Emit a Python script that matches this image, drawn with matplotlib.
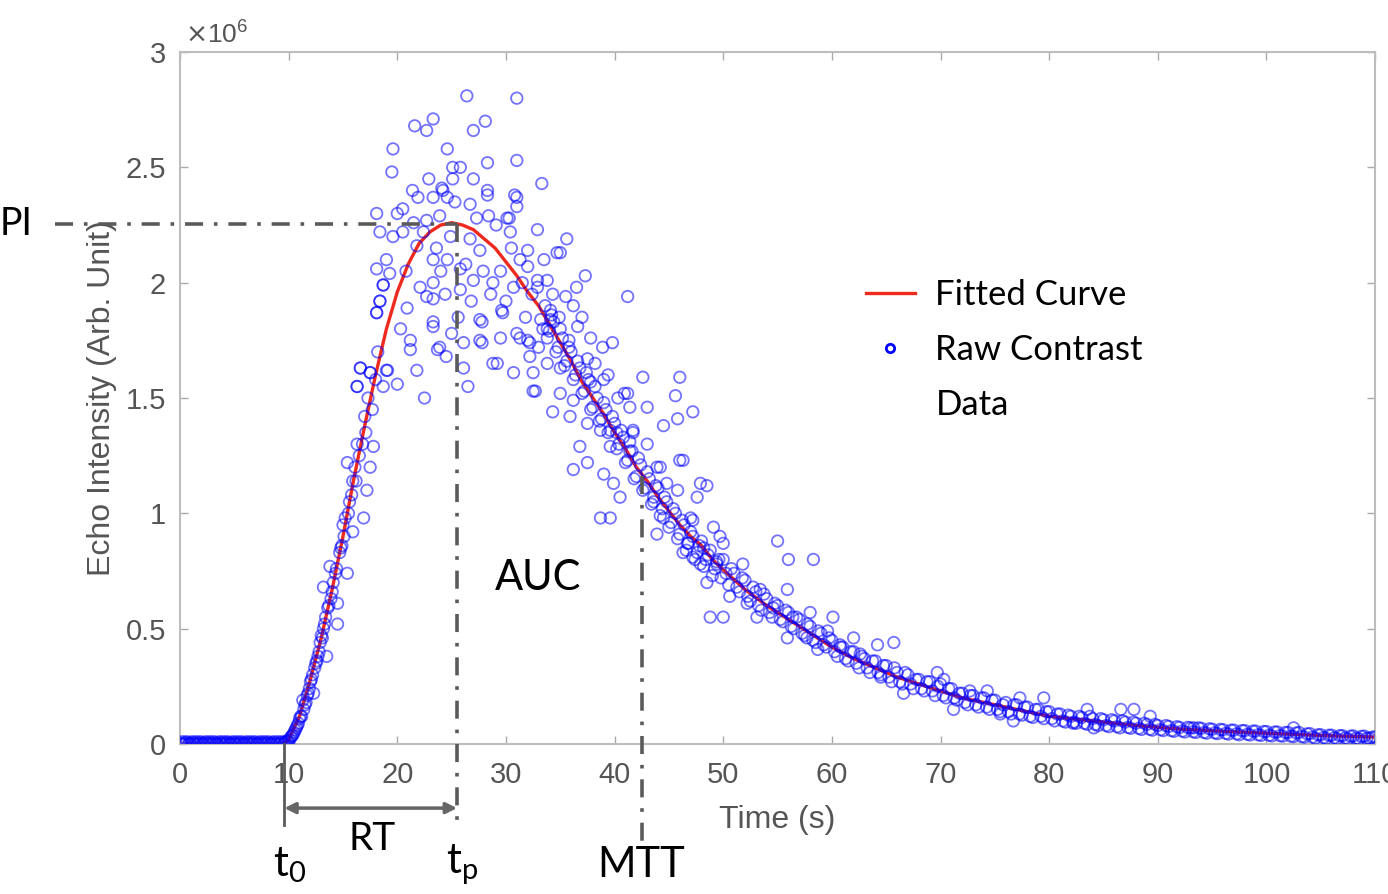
import matplotlib
matplotlib.use('Agg')
import matplotlib.pyplot as plt
from matplotlib.lines import Line2D
from matplotlib.ticker import FuncFormatter

# all intensities in units of 1e6
# baseline before contrast arrival
base_t = [0, 0.125, 0.25, 0.375, 0.5, 0.625, 0.75, 0.875, 1, 1.125,
          1.25, 1.375, 1.5, 1.625, 1.75, 1.875, 2, 2.125, 2.25, 2.375,
          2.5, 2.625, 2.75, 2.875, 3, 3.125, 3.25, 3.375, 3.5, 3.625,
          3.75, 3.875, 4, 4.125, 4.25, 4.375, 4.5, 4.625, 4.75, 4.875,
          5, 5.125, 5.25, 5.375, 5.5, 5.625, 5.75, 5.875, 6, 6.125,
          6.25, 6.375, 6.5, 6.625, 6.75, 6.875, 7, 7.125, 7.25, 7.375,
          7.5, 7.625, 7.75, 7.875, 8, 8.125, 8.25, 8.375, 8.5, 8.625,
          8.75, 8.875, 9, 9.125, 9.25, 9.375, 9.5, 9.625, 9.75, 9.875]
base_y = [0.005, 0.0, 0.01, 0.0, 0.005, 0.01, 0.0, 0.005, 0.0, 0.01,
          0.005, 0.0, 0.01, 0.0, 0.005, 0.01, 0.0, 0.005, 0.0, 0.01,
          0.005, 0.0, 0.01, 0.0, 0.005, 0.01, 0.0, 0.005, 0.0, 0.01,
          0.005, 0.0, 0.01, 0.0, 0.005, 0.01, 0.0, 0.005, 0.0, 0.01,
          0.005, 0.0, 0.01, 0.0, 0.005, 0.01, 0.0, 0.005, 0.0, 0.01,
          0.005, 0.0, 0.01, 0.0, 0.005, 0.01, 0.0, 0.005, 0.0, 0.01,
          0.005, 0.0, 0.01, 0.0, 0.005, 0.01, 0.0, 0.005, 0.0, 0.01,
          0.005, 0.0, 0.01, 0.0, 0.005, 0.01, 0.0, 0.005, 0.01, 0.015]

# wash-in
rise_pts = [(10.0, 0.01), (10.2, 0.03), (10.4, 0.04), (10.6, 0.06), (10.8, 0.08), (11.0, 0.11),
            (11.2, 0.12), (11.3, 0.19), (11.4, 0.15), (11.6, 0.18), (11.8, 0.22), (12.0, 0.27),
            (12.2, 0.30), (12.3, 0.22), (12.4, 0.33), (12.6, 0.36), (12.8, 0.40), (12.9, 0.44),
            (13.0, 0.47), (13.2, 0.50), (13.2, 0.68), (13.4, 0.55), (13.5, 0.38), (13.6, 0.59),
            (13.8, 0.77), (13.9, 0.63), (14.1, 0.70), (14.3, 0.74), (14.5, 0.61), (14.5, 0.52),
            (14.7, 0.83), (14.9, 0.86), (15.0, 0.95), (15.2, 0.98), (15.4, 0.74), (15.4, 1.22),
            (15.6, 1.05), (15.9, 0.92), (15.9, 1.14), (16.1, 1.20), (16.3, 1.55), (16.3, 1.30),
            (16.6, 1.63), (16.8, 1.30), (16.9, 0.98), (17.0, 1.42), (17.2, 1.10), (17.3, 1.50),
            (17.5, 1.20), (17.5, 1.61), (17.8, 1.29), (18.0, 1.58), (18.1, 1.87), (18.2, 1.70),
            (18.4, 1.92), (18.7, 1.55), (18.7, 1.99), (19.0, 1.62),
            (10.1, 0.02), (10.3, 0.035), (10.5, 0.05), (10.7, 0.07), (10.9, 0.09), (11.1, 0.12),
            (11.5, 0.17), (11.7, 0.21), (11.9, 0.24), (12.1, 0.28), (12.5, 0.35), (12.7, 0.38),
            (13.1, 0.46), (13.3, 0.52), (13.7, 0.60), (14.0, 0.66), (14.4, 0.76), (14.8, 0.85),
            (15.1, 0.90), (15.5, 1.00), (15.8, 1.08), (16.2, 1.14), (16.5, 1.25), (17.1, 1.35),
            (17.7, 1.45)]

# around the peak
peak_pts = [(26.4, 2.81), (31.0, 2.80), (21.6, 2.68), (23.3, 2.71), (22.7, 2.66), (27.0, 2.66),
            (28.1, 2.70), (19.6, 2.58), (24.6, 2.58), (28.3, 2.52), (31.0, 2.53), (19.5, 2.48),
            (25.1, 2.50), (25.8, 2.50), (27.0, 2.45), (33.3, 2.43), (24.1, 2.41), (24.6, 2.37),
            (21.9, 2.37), (23.3, 2.37), (28.3, 2.38), (31.0, 2.37), (26.7, 2.34), (20.5, 2.32),
            (18.1, 2.30), (30.1, 2.28), (28.4, 2.29), (21.5, 2.26), (22.7, 2.27), (23.9, 2.29),
            (18.4, 2.22), (19.6, 2.20), (20.5, 2.22), (26.7, 2.19), (30.4, 2.22), (32.9, 2.23),
            (21.8, 2.16), (27.6, 2.14), (32.0, 2.14), (34.7, 2.13), (18.1, 2.06), (19.3, 2.04),
            (23.3, 2.10), (24.6, 2.10), (25.8, 2.06), (27.0, 2.01), (28.8, 2.00), (30.7, 1.98),
            (32.9, 2.01), (18.7, 1.99), (22.1, 1.98), (23.3, 2.00), (25.8, 1.97), (22.7, 1.94),
            (18.4, 1.92), (18.1, 1.87), (20.9, 1.89), (23.3, 1.93), (27.6, 1.84), (29.7, 1.87),
            (31.0, 1.78), (29.5, 1.76), (23.3, 1.81), (21.2, 1.75), (23.9, 1.72), (26.1, 1.74),
            (16.6, 1.63), (17.5, 1.61), (19.1, 1.62), (20.0, 1.56), (26.1, 1.63), (28.8, 1.65),
            (30.7, 1.61), (32.5, 1.53), (16.3, 1.55), (25.1, 2.45), (24.2, 2.40), (28.3, 2.40),
            (30.8, 2.38), (31.0, 2.33), (30.3, 2.28), (35.6, 2.19), (35.0, 2.13), (31.3, 2.10),
            (32.0, 2.07), (33.8, 2.01), (32.9, 1.98), (37.3, 2.03), (41.2, 1.94), (35.5, 1.94),
            (36.2, 1.90), (34.1, 1.88), (34.1, 1.84), (36.6, 1.81), (29.6, 1.88), (27.8, 1.83),
            (31.3, 1.76), (32.2, 1.74), (37.8, 1.76), (39.8, 1.74), (27.8, 1.74), (32.2, 1.68),
            (33.8, 1.65), (35.0, 1.63), (37.5, 1.67), (23.3, 1.83), (21.2, 1.71), (23.7, 1.71),
            (27.6, 1.75), (32.0, 1.75), (33.8, 1.80), (29.2, 1.65), (32.5, 1.61),
            (19.0, 2.10), (20.0, 2.30), (20.8, 2.05), (21.4, 2.40), (22.4, 2.22), (22.9, 2.45),
            (23.6, 2.15), (24.0, 2.05), (24.4, 1.95), (24.9, 2.20), (25.3, 2.35), (25.6, 1.85),
            (26.3, 2.08), (26.8, 1.92), (27.3, 2.28), (27.9, 2.05), (28.6, 1.95), (29.1, 2.25),
            (29.5, 2.05), (30.0, 1.92), (30.5, 2.15), (31.5, 2.00), (31.8, 1.85), (32.4, 1.95),
            (33.0, 1.72), (33.5, 2.10), (34.3, 1.95), (34.9, 1.85), (35.8, 1.75), (36.5, 1.98),
            (37.0, 1.85), (38.2, 1.65), (38.9, 1.72), (39.4, 1.60), (40.3, 1.50), (20.3, 1.80),
            (21.8, 1.62), (22.5, 1.50), (24.5, 1.68), (25.0, 1.78), (26.5, 1.55)]

# wash-out, scattered part
fall_pts = [(42.6, 1.59), (46.0, 1.59), (32.7, 1.53), (35.0, 1.52), (36.2, 1.49), (37.8, 1.57),
            (39.0, 1.58), (41.2, 1.52), (45.6, 1.51), (43.0, 1.46), (47.2, 1.44), (34.3, 1.44),
            (35.9, 1.42), (37.5, 1.39), (38.7, 1.36), (40.2, 1.35), (41.7, 1.35), (44.5, 1.38),
            (36.8, 1.29), (39.6, 1.29), (41.4, 1.27), (43.0, 1.30), (36.2, 1.19), (37.5, 1.22),
            (39.0, 1.17), (39.9, 1.13), (40.5, 1.07), (38.7, 0.98), (39.6, 0.98), (44.2, 1.20),
            (44.8, 1.13), (46.0, 1.23), (45.8, 1.10), (47.9, 1.13), (43.6, 1.05), (44.5, 0.98),
            (47.0, 0.98), (43.9, 0.91), (49.1, 0.94), (49.7, 0.90), (46.7, 0.87), (48.2, 0.85),
            (45.8, 1.41), (41.4, 1.46), (40.9, 1.52), (41.7, 1.36), (46.3, 1.23), (48.5, 1.12),
            (47.6, 1.07), (43.9, 1.20), (47.2, 0.97), (50.0, 0.87), (46.3, 0.83), (47.9, 0.78),
            (47.2, 0.81), (49.4, 0.78), (51.8, 0.78), (55.0, 0.88), (56.0, 0.80), (58.3, 0.80),
            (48.5, 0.70), (50.6, 0.64), (52.2, 0.61), (48.8, 0.55), (50.0, 0.55), (53.4, 0.67),
            (55.9, 0.67), (54.6, 0.59), (53.1, 0.55), (56.4, 0.55), (58.0, 0.57), (60.1, 0.55),
            (55.9, 0.46), (57.7, 0.46), (59.6, 0.49), (62.0, 0.46), (60.8, 0.42), (64.2, 0.43),
            (65.7, 0.44), (58.7, 0.41), (62.6, 0.39), (64.5, 0.29), (66.6, 0.22), (69.7, 0.31),
            (70.3, 0.28), (72.7, 0.23), (74.3, 0.23), (71.2, 0.15), (75.5, 0.13), (77.3, 0.20),
            (79.5, 0.20), (76.7, 0.10), (82.2, 0.09), (83.5, 0.15), (86.6, 0.15), (87.8, 0.15),
            (89.3, 0.12), (84.1, 0.07), (93.3, 0.07), (102.5, 0.07)]

# wash-out, points hugging the curve
stream_pts = [(33.2, 1.84), (33.6, 1.90), (34.0, 1.79), (34.4, 1.83), (34.8, 1.72), (35.2, 1.76),
              (35.6, 1.66), (36.0, 1.70), (36.4, 1.60), (36.8, 1.63), (37.2, 1.53), (37.6, 1.58),
              (38.0, 1.46), (38.4, 1.50), (38.8, 1.41), (39.2, 1.45), (39.6, 1.36), (40.0, 1.39),
              (40.4, 1.30), (40.8, 1.33), (41.2, 1.23), (41.6, 1.27), (42.0, 1.16), (42.4, 1.21),
              (42.8, 1.11), (43.2, 1.15), (43.6, 1.07), (44.0, 1.11), (44.4, 1.02), (44.8, 1.05),
              (45.2, 0.96), (45.6, 1.00), (46.0, 0.91), (46.4, 0.95), (46.8, 0.87), (47.2, 0.90),
              (47.6, 0.83), (48.0, 0.88), (48.4, 0.80), (48.8, 0.84), (49.2, 0.76), (49.6, 0.80),
              (33.4, 1.80), (33.8, 1.76), (34.2, 1.86), (34.6, 1.70), (35.0, 1.80), (35.4, 1.64),
              (35.8, 1.72), (36.2, 1.58), (36.6, 1.66), (37.0, 1.52), (37.4, 1.61), (37.8, 1.45),
              (38.2, 1.55), (38.6, 1.40), (39.0, 1.48), (39.4, 1.35), (39.8, 1.42), (40.2, 1.28),
              (40.6, 1.36), (41.0, 1.22), (41.4, 1.31), (41.8, 1.15), (42.2, 1.24), (42.6, 1.10),
              (43.0, 1.18), (43.4, 1.04), (43.8, 1.12), (44.2, 0.99), (44.6, 1.07), (45.0, 0.94),
              (45.4, 1.02), (45.8, 0.89), (46.2, 0.97), (46.6, 0.84), (47.0, 0.92), (47.4, 0.80),
              (47.8, 0.86), (48.2, 0.77), (48.6, 0.82), (49.0, 0.73), (49.4, 0.79), (49.8, 0.72)]

tail_t = [50.0, 50.5, 51.0, 51.5, 52.0, 52.5, 53.0, 53.5, 54.0, 54.5, 55.0, 55.5, 56.0, 56.5,
          57.0, 57.5, 58.0, 58.5, 59.0, 59.5, 60.0, 60.5, 61.0, 61.5, 62.0, 62.5, 63.0, 63.5,
          64.0, 64.5, 65.0, 65.5, 66.0, 66.5, 67.0, 67.5, 68.0, 68.5, 69.0, 69.5, 70.0, 70.5,
          71.0, 71.5, 72.0, 72.5, 73.0, 73.5, 74.0, 74.5, 75.0, 75.5, 76.0, 76.5, 77.0, 77.5,
          78.0, 78.5, 79.0, 79.5, 80.0, 80.5, 81.0, 81.5, 82.0, 82.5, 83.0, 83.5, 84.0, 84.5,
          85.0, 85.5, 86.0, 86.5, 87.0, 87.5, 88.0, 88.5, 89.0, 89.5, 90.0, 90.5, 91.0, 91.5,
          92.0, 92.5, 93.0, 93.5, 94.0, 94.5, 95.0, 95.5, 96.0, 96.5, 97.0, 97.5, 98.0, 98.5,
          99.0, 99.5, 100.0, 100.5, 101.0, 101.5, 102.0, 102.5, 103.0, 103.5, 104.0, 104.5,
          105.0, 105.5, 106.0, 106.5, 107.0, 107.5, 108.0, 108.5, 109.0, 109.5, 110.0]
tail_y = [0.80, 0.69, 0.74, 0.66, 0.71, 0.62, 0.66, 0.58, 0.63, 0.55, 0.60, 0.53, 0.57, 0.50,
          0.54, 0.47, 0.51, 0.44, 0.48, 0.42, 0.45, 0.38, 0.42, 0.36, 0.40, 0.33, 0.37, 0.31,
          0.36, 0.30, 0.34, 0.27, 0.31, 0.26, 0.30, 0.24, 0.28, 0.23, 0.27, 0.21, 0.26, 0.20,
          0.24, 0.19, 0.22, 0.17, 0.21, 0.16, 0.20, 0.15, 0.19, 0.14, 0.18, 0.13, 0.17, 0.125,
          0.16, 0.115, 0.15, 0.11, 0.14, 0.10, 0.13, 0.095, 0.12, 0.09, 0.115, 0.085, 0.11, 0.08,
          0.105, 0.075, 0.10, 0.07, 0.095, 0.068, 0.09, 0.063, 0.085, 0.06, 0.08, 0.058, 0.076,
          0.055, 0.072, 0.052, 0.07, 0.05, 0.068, 0.047, 0.064, 0.045, 0.062, 0.043, 0.06, 0.04,
          0.058, 0.039, 0.056, 0.037, 0.054, 0.035, 0.052, 0.034, 0.05, 0.032, 0.05, 0.03, 0.045,
          0.025, 0.04, 0.024, 0.038, 0.023, 0.036, 0.022, 0.035, 0.022, 0.034, 0.025, 0.03]

# second pass through the tail band (frames between the ones above)
tail2_pts = [(50.25, 0.74), (50.75, 0.76), (51.25, 0.68), (51.75, 0.72), (52.25, 0.64),
             (52.75, 0.68), (53.25, 0.60), (53.75, 0.65), (54.25, 0.57), (54.75, 0.61),
             (55.25, 0.54), (55.75, 0.58), (56.25, 0.51), (56.75, 0.55), (57.25, 0.48),
             (57.75, 0.52), (58.25, 0.45), (58.75, 0.49), (59.25, 0.43), (59.75, 0.46),
             (60.25, 0.40), (60.75, 0.43), (61.25, 0.37), (61.75, 0.40), (62.25, 0.35),
             (62.75, 0.38), (63.25, 0.33), (63.75, 0.36), (64.25, 0.31), (64.75, 0.34),
             (65.25, 0.29), (65.75, 0.33), (66.25, 0.27), (66.75, 0.31), (67.25, 0.26),
             (67.75, 0.28), (68.25, 0.24), (68.75, 0.27), (69.25, 0.23), (69.75, 0.25),
             (70.25, 0.21), (70.75, 0.24), (71.25, 0.20), (71.75, 0.22), (72.25, 0.18),
             (72.75, 0.21), (73.25, 0.17), (73.75, 0.20), (74.25, 0.16), (74.75, 0.19),
             (75.25, 0.15), (75.75, 0.17), (76.25, 0.14), (76.75, 0.17), (77.25, 0.13),
             (77.75, 0.16), (78.25, 0.12), (78.75, 0.15), (79.25, 0.12), (79.75, 0.14),
             (80.25, 0.11), (80.75, 0.13), (81.25, 0.10), (81.75, 0.125), (82.25, 0.095),
             (82.75, 0.12), (83.25, 0.09), (83.75, 0.12), (84.25, 0.085), (84.75, 0.11),
             (85.25, 0.08), (85.75, 0.105), (86.25, 0.075), (86.75, 0.10), (87.25, 0.072),
             (87.75, 0.095), (88.25, 0.068), (88.75, 0.09), (89.25, 0.064), (89.75, 0.085),
             (90.25, 0.062), (90.75, 0.08), (91.25, 0.058), (91.75, 0.075), (92.25, 0.056),
             (92.75, 0.072), (93.25, 0.053), (93.75, 0.07), (94.25, 0.05), (94.75, 0.066),
             (95.25, 0.048), (95.75, 0.063), (96.25, 0.046), (96.75, 0.06), (97.25, 0.044),
             (97.75, 0.058), (98.25, 0.042), (98.75, 0.056), (99.25, 0.04), (99.75, 0.054),
             (100.25, 0.038), (100.75, 0.052), (101.25, 0.036), (101.75, 0.05), (102.25, 0.034),
             (102.75, 0.048), (103.25, 0.032), (103.75, 0.044), (104.25, 0.03), (104.75, 0.04),
             (105.25, 0.028), (105.75, 0.038), (106.25, 0.027), (106.75, 0.036), (107.25, 0.026),
             (107.75, 0.034), (108.25, 0.025), (108.75, 0.033), (109.25, 0.025), (109.75, 0.03)]

# fitted gamma-variate curve
fit_t = [0, 9.5, 10, 11, 12, 13, 14, 15, 16, 17, 18, 19, 20, 21, 22, 23, 24, 25, 26, 27, 28,
         29, 30, 31, 32, 33, 34, 35, 36, 37, 38, 39, 40, 41, 42, 43, 44, 45, 46, 47, 48, 49,
         50, 52, 54, 56, 58, 60, 62, 64, 66, 68, 70, 72, 74, 76, 78, 80, 84, 88, 92, 96, 100,
         105, 110]
fit_y = [0, 0, 0.02, 0.12, 0.28, 0.46, 0.67, 0.9, 1.15, 1.38, 1.6, 1.8, 1.96, 2.08, 2.17,
         2.22, 2.25, 2.26, 2.25, 2.23, 2.19, 2.15, 2.09, 2.03, 1.96, 1.9, 1.82, 1.74, 1.66, 1.57,
         1.5, 1.43, 1.35, 1.28, 1.2, 1.14, 1.07, 1.01, 0.95, 0.9, 0.86, 0.8, 0.755, 0.67, 0.6,
         0.54, 0.48, 0.42, 0.37, 0.33, 0.29, 0.26, 0.23, 0.2, 0.18, 0.16, 0.14, 0.12, 0.1, 0.08,
         0.065, 0.055, 0.047, 0.037, 0.03]

# perfusion parameters
t0 = 9.6
tp = 25.5
PI = 2.255
mtt = 42.5
mtt_level = 1.16

x_ticks = [0, 10, 20, 30, 40, 50, 60, 70, 80, 90, 100, 110]
y_ticks = [0, 0.5, 1, 1.5, 2, 2.5, 3]

plt.rcParams['font.family'] = ['Liberation Sans', 'DejaVu Sans']
ann_font = ['Lato', 'DejaVu Sans']
gray = '#555555'
line_gray = '#5a5a5a'

fig = plt.figure(figsize=(13.88, 8.94), dpi=100)
ax = fig.add_axes([0.1297, 0.1678, 0.8610, 0.7740])

ax.plot(fit_t, fit_y, color='#ee2a1f', lw=2.4, zorder=2)

scat = rise_pts + peak_pts + fall_pts + stream_pts + tail2_pts
pts_t = base_t + [p[0] for p in scat] + tail_t
pts_y = base_y + [p[1] for p in scat] + tail_y
ax.scatter(pts_t, pts_y, s=68, facecolors='none', edgecolors='blue', linewidths=1.3,
           alpha=0.55, zorder=3)

# dash-dot guides
dd = (0, (5, 3, 1, 3))
ax.plot([-11.5, tp], [PI, PI], color=line_gray, lw=2.6, linestyle=dd, clip_on=False, zorder=4)
ax.plot([tp, tp], [PI, -0.37], color=line_gray, lw=2.6, linestyle=dd, clip_on=False, zorder=4)
ax.plot([mtt, mtt], [mtt_level, -0.42], color=line_gray, lw=2.6, linestyle=dd, clip_on=False,
        zorder=4)
ax.plot([t0, t0], [0, -0.35], color=line_gray, lw=2, clip_on=False, zorder=4)
ax.annotate('', xy=(tp, -0.278), xytext=(t0, -0.278),
            arrowprops=dict(arrowstyle='<|-|>', color='#666666', lw=2.5, mutation_scale=16,
                            shrinkA=0, shrinkB=0),
            annotation_clip=False)

ax.text(-16.6, PI, 'PI', fontsize=27, family=ann_font, ha='left', va='center')
ax.text(33.0, 0.72, 'AUC', fontsize=30, family=ann_font, ha='center', va='center')
ax.text(t0 + 0.5, -0.525, r'$\mathregular{t_0}$', fontsize=30, family=ann_font,
        ha='center', va='center')
ax.text(17.7, -0.41, 'RT', fontsize=28, family=ann_font, ha='center', va='center')
ax.text(tp + 0.5, -0.525, r'$\mathregular{t_p}$', fontsize=30, family=ann_font,
        ha='center', va='center')
ax.text(mtt - 0.1, -0.525, 'MTT', fontsize=30, family=ann_font, ha='center', va='center')

ax.set_xlim(0, 110)
ax.set_ylim(0, 3)
ax.set_xticks(x_ticks)
ax.set_yticks(y_ticks)
ax.yaxis.set_major_formatter(FuncFormatter(lambda v, p: '%g' % v))
ax.tick_params(direction='in', length=6, width=1, color='#aaaaaa', labelcolor=gray,
               labelsize=21, top=True, right=True)
ax.tick_params(axis='x', pad=12)
ax.tick_params(axis='y', pad=10)
for s in ax.spines.values():
    s.set_color('#bdbdbd')
    s.set_linewidth(1.5)

ax.set_xlabel('Time (s)', fontsize=23, color=gray, labelpad=12)
ax.set_ylabel('Echo Intensity (Arb. Unit)', fontsize=23, color=gray, labelpad=6)
ax.text(0.004, 1.005, r'$\times\mathregular{10^6}$', transform=ax.transAxes, fontsize=19,
        color=gray, ha='left', va='bottom')

handles = [Line2D([], [], color='#ee2a1f', lw=2.4),
           Line2D([], [], marker='o', mfc='none', mec='blue', mew=2, ls='none', markersize=6),
           Line2D([], [], ls='none')]
labels = ['Fitted Curve', 'Raw Contrast', 'Data']
ax.legend(handles, labels, loc='upper left', bbox_to_anchor=(866 / 1388, 1 - 279 / 894),
          bbox_transform=fig.transFigure, frameon=False, borderpad=0, borderaxespad=0,
          handlelength=1.4, handletextpad=0.6, labelspacing=0.66,
          prop={'family': ann_font, 'size': 25})

plt.savefig('out.png', dpi=100)
